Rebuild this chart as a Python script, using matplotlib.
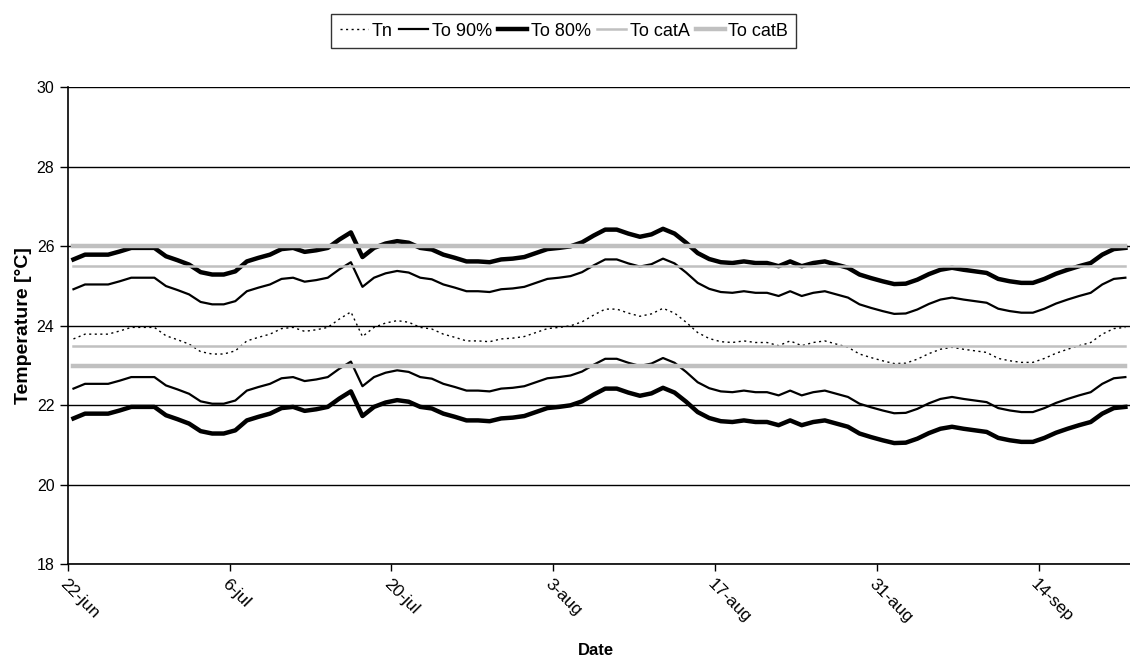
import matplotlib.pyplot as plt
import numpy as np
from matplotlib.transforms import ScaledTranslation

plt.rcParams['font.family'] = ['Liberation Sans', 'DejaVu Sans']

# daily values 22-jun .. 21-sep
tick_labels = ['22-jun', '6-jul', '20-jul', '3-aug', '17-aug', '31-aug', '14-sep']

tn = [23.67, 23.79, 23.79, 23.79, 23.87, 23.96, 23.96, 23.96, 23.75, 23.65,
      23.54, 23.35, 23.29, 23.29, 23.37, 23.62, 23.71, 23.79, 23.93, 23.96,
      23.86, 23.90, 23.96, 24.17, 24.35, 23.73, 23.96, 24.07, 24.13, 24.09,
      23.96, 23.92, 23.79, 23.71, 23.62, 23.62, 23.60, 23.67, 23.69, 23.73,
      23.83, 23.93, 23.96, 24.00, 24.10, 24.27, 24.42, 24.42, 24.32, 24.24,
      24.30, 24.44, 24.32, 24.09, 23.83, 23.68, 23.60, 23.58, 23.62, 23.58,
      23.58, 23.50, 23.62, 23.50, 23.58, 23.62, 23.54, 23.46, 23.29, 23.20,
      23.12, 23.05, 23.06, 23.16, 23.30, 23.41, 23.46, 23.41, 23.37, 23.33,
      23.18, 23.12, 23.08, 23.08, 23.18, 23.31, 23.41, 23.50, 23.58, 23.79,
      23.93, 23.96]

to90_upper = [24.92, 25.04, 25.04, 25.04, 25.12, 25.21, 25.21, 25.21, 25.00, 24.90,
              24.79, 24.60, 24.54, 24.54, 24.62, 24.87, 24.96, 25.04, 25.18, 25.21,
              25.11, 25.15, 25.21, 25.42, 25.60, 24.98, 25.21, 25.32, 25.38, 25.34,
              25.21, 25.17, 25.04, 24.96, 24.87, 24.87, 24.85, 24.92, 24.94, 24.98,
              25.08, 25.18, 25.21, 25.25, 25.35, 25.52, 25.67, 25.67, 25.57, 25.49,
              25.55, 25.69, 25.57, 25.34, 25.08, 24.93, 24.85, 24.83, 24.87, 24.83,
              24.83, 24.75, 24.87, 24.75, 24.83, 24.87, 24.79, 24.71, 24.54, 24.45,
              24.37, 24.30, 24.31, 24.41, 24.55, 24.66, 24.71, 24.66, 24.62, 24.58,
              24.43, 24.37, 24.33, 24.33, 24.43, 24.56, 24.66, 24.75, 24.83, 25.04,
              25.18, 25.21]

to90_lower = [22.42, 22.54, 22.54, 22.54, 22.62, 22.71, 22.71, 22.71, 22.50, 22.40,
              22.29, 22.10, 22.04, 22.04, 22.12, 22.37, 22.46, 22.54, 22.68, 22.71,
              22.61, 22.65, 22.71, 22.92, 23.10, 22.48, 22.71, 22.82, 22.88, 22.84,
              22.71, 22.67, 22.54, 22.46, 22.37, 22.37, 22.35, 22.42, 22.44, 22.48,
              22.58, 22.68, 22.71, 22.75, 22.85, 23.02, 23.17, 23.17, 23.07, 22.99,
              23.05, 23.19, 23.07, 22.84, 22.58, 22.43, 22.35, 22.33, 22.37, 22.33,
              22.33, 22.25, 22.37, 22.25, 22.33, 22.37, 22.29, 22.21, 22.04, 21.95,
              21.87, 21.80, 21.81, 21.91, 22.05, 22.16, 22.21, 22.16, 22.12, 22.08,
              21.93, 21.87, 21.83, 21.83, 21.93, 22.06, 22.16, 22.25, 22.33, 22.54,
              22.68, 22.71]

to80_upper = [25.67, 25.79, 25.79, 25.79, 25.87, 25.96, 25.96, 25.96, 25.75, 25.65,
              25.54, 25.35, 25.29, 25.29, 25.37, 25.62, 25.71, 25.79, 25.93, 25.96,
              25.86, 25.90, 25.96, 26.17, 26.35, 25.73, 25.96, 26.07, 26.13, 26.09,
              25.96, 25.92, 25.79, 25.71, 25.62, 25.62, 25.60, 25.67, 25.69, 25.73,
              25.83, 25.93, 25.96, 26.00, 26.10, 26.27, 26.42, 26.42, 26.32, 26.24,
              26.30, 26.44, 26.32, 26.09, 25.83, 25.68, 25.60, 25.58, 25.62, 25.58,
              25.58, 25.50, 25.62, 25.50, 25.58, 25.62, 25.54, 25.46, 25.29, 25.20,
              25.12, 25.05, 25.06, 25.16, 25.30, 25.41, 25.46, 25.41, 25.37, 25.33,
              25.18, 25.12, 25.08, 25.08, 25.18, 25.31, 25.41, 25.50, 25.58, 25.79,
              25.93, 25.96]

to80_lower = [21.67, 21.79, 21.79, 21.79, 21.87, 21.96, 21.96, 21.96, 21.75, 21.65,
              21.54, 21.35, 21.29, 21.29, 21.37, 21.62, 21.71, 21.79, 21.93, 21.96,
              21.86, 21.90, 21.96, 22.17, 22.35, 21.73, 21.96, 22.07, 22.13, 22.09,
              21.96, 21.92, 21.79, 21.71, 21.62, 21.62, 21.60, 21.67, 21.69, 21.73,
              21.83, 21.93, 21.96, 22.00, 22.10, 22.27, 22.42, 22.42, 22.32, 22.24,
              22.30, 22.44, 22.32, 22.09, 21.83, 21.68, 21.60, 21.58, 21.62, 21.58,
              21.58, 21.50, 21.62, 21.50, 21.58, 21.62, 21.54, 21.46, 21.29, 21.20,
              21.12, 21.05, 21.06, 21.16, 21.30, 21.41, 21.46, 21.41, 21.37, 21.33,
              21.18, 21.12, 21.08, 21.08, 21.18, 21.31, 21.41, 21.50, 21.58, 21.79,
              21.93, 21.96]

cat_a = [23.5, 25.5]
cat_b = [23.0, 26.0]

days = np.arange(len(tn))
gray = '#c0c0c0'

fig = plt.figure(figsize=(11.3, 6.61), dpi=100)
ax = fig.add_axes([0.0599, 0.1463, 0.9401, 0.7216])

ax.plot(days, tn, color='black', lw=1, linestyle=(0, (1.5, 2.5)), label='Tn')
ax.plot(days, to90_upper, color='black', lw=1.6, label='To 90%')
ax.plot(days, to90_lower, color='black', lw=1.6)
ax.plot(days, to80_upper, color='black', lw=3.2, label='To 80%')
ax.plot(days, to80_lower, color='black', lw=3.2)
for k, v in enumerate(cat_a):
    ax.plot(days, np.full(len(days), v), color=gray, lw=1.8,
            label='To catA' if k == 0 else None)
for k, v in enumerate(cat_b):
    ax.plot(days, np.full(len(days), v), color=gray, lw=3.2,
            label='To catB' if k == 0 else None)

ax.set_xlim(-0.5, 91.4)
ax.set_ylim(18, 30)
ax.set_yticks(np.arange(18, 31, 2))
ax.yaxis.grid(True, color='black', lw=1)
ax.set_axisbelow(True)

ax.set_xticks(np.arange(len(tick_labels)) * 14 - 0.5)
ax.set_xticklabels(tick_labels, rotation=-45, ha='left', va='top',
                   rotation_mode='anchor', fontsize=12.5)
offset = ScaledTranslation(0.16, 0, fig.dpi_scale_trans)
for lbl in ax.get_xticklabels():
    lbl.set_transform(lbl.get_transform() + offset)

ax.tick_params(direction='out', length=5, width=1, color='black')
ax.tick_params(axis='y', labelsize=11.5, length=6)
ax.spines['top'].set_visible(False)
ax.spines['right'].set_visible(False)
for s in ['left', 'bottom']:
    ax.spines[s].set_linewidth(1.2)

ax.set_ylabel('Temperature [°C]', fontweight='bold', fontsize=14)
ax.yaxis.set_label_coords(-0.034, 0.5)
ax.set_xlabel('Date', fontweight='bold', fontsize=12)
ax.xaxis.label.set_va('center')
ax.xaxis.set_label_coords(0.497, -0.18)

leg = fig.legend(loc='center', bbox_to_anchor=(0.499, 0.953), ncol=5, frameon=True,
                 fancybox=False, edgecolor='black', fontsize=13, handlelength=1.6,
                 handletextpad=0.2, columnspacing=0.35, borderpad=0.45)
leg.get_frame().set_linewidth(1)

fig.savefig('out.png', dpi=100)
